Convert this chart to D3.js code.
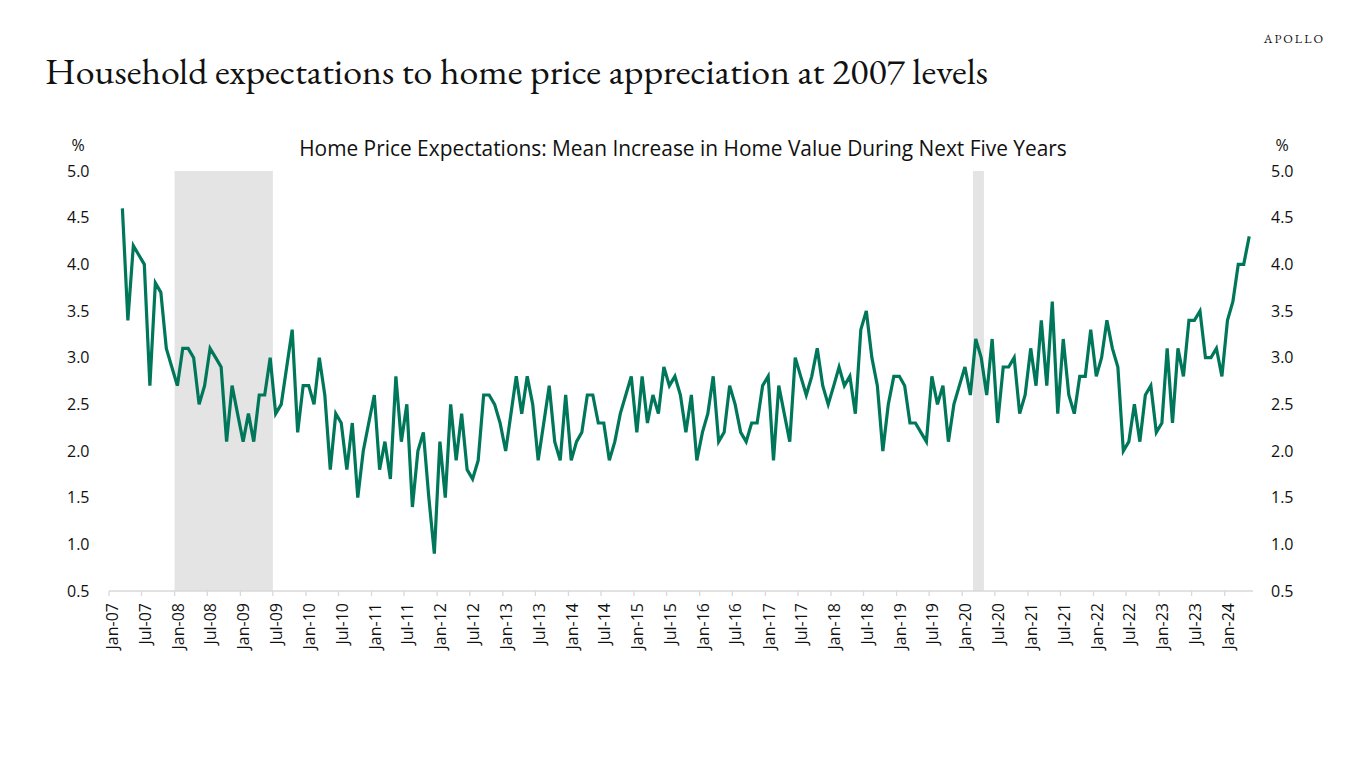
<!DOCTYPE html>
<html><head><meta charset="utf-8">
<script src="https://cdn.jsdelivr.net/npm/d3@7"></script>
<style>body{margin:0;background:#fff;} svg{display:block}</style>
</head><body><svg id="c" width="1366" height="768"></svg>
<script>
// ---- data (monthly, starting Mar-2007) ----
const firstMonth = "2007-03";
const v2007 = [4.6,3.4,4.2,4.1,4.0,2.7,3.8,3.7,3.1,2.9];
const v2008 = [2.7,3.1,3.1,3.0,2.5,2.7,3.1,3.0,2.9,2.1,2.7,2.4];
const v2009 = [2.1,2.4,2.1,2.6,2.6,3.0,2.4,2.5,2.9,3.3,2.2,2.7];
const v2010 = [2.7,2.5,3.0,2.6,1.8,2.4,2.3,1.8,2.3,1.5,2.0,2.3];
const v2011 = [2.6,1.8,2.1,1.7,2.8,2.1,2.5,1.4,2.0,2.2,1.5,0.9];
const v2012 = [2.1,1.5,2.5,1.9,2.4,1.8,1.7,1.9,2.6,2.6,2.5,2.3];
const v2013 = [2.0,2.4,2.8,2.4,2.8,2.5,1.9,2.3,2.7,2.1,1.9,2.6];
const v2014 = [1.9,2.1,2.2,2.6,2.6,2.3,2.3,1.9,2.1,2.4,2.6,2.8];
const v2015 = [2.2,2.8,2.3,2.6,2.4,2.9,2.7,2.8,2.6,2.2,2.6,1.9];
const v2016 = [2.2,2.4,2.8,2.1,2.2,2.7,2.5,2.2,2.1,2.3,2.3,2.7];
const v2017 = [2.8,1.9,2.7,2.4,2.1,3.0,2.8,2.6,2.8,3.1,2.7,2.5];
const v2018 = [2.7,2.9,2.7,2.8,2.4,3.3,3.5,3.0,2.7,2.0,2.5,2.8];
const v2019 = [2.8,2.7,2.3,2.3,2.2,2.1,2.8,2.5,2.7,2.1,2.5,2.7];
const v2020 = [2.9,2.6,3.2,3.0,2.6,3.2,2.3,2.9,2.9,3.0,2.4,2.6];
const v2021 = [3.1,2.7,3.4,2.7,3.6,2.4,3.2,2.6,2.4,2.8,2.8,3.3];
const v2022 = [2.8,3.0,3.4,3.1,2.9,2.0,2.1,2.5,2.1,2.6,2.7,2.2];
const v2023 = [2.3,3.1,2.3,3.1,2.8,3.4,3.4,3.5,3.0,3.0,3.1,2.8];
const v2024 = [3.4,3.6,4.0,4.0,4.3];
const axisRange = ["2007-01","2024-06"];           // category span of the x axis (monthly)
const recessions = [["2008-01","2009-07"],["2020-03","2020-05"]];
const yTicks = [0.5,1.0,1.5,2.0,2.5,3.0,3.5,4.0,4.5,5.0];

const title = "Household expectations to home price appreciation at 2007 levels";
const subtitle = "Home Price Expectations: Mean Increase in Home Value During Next Five Years";

// ---- build series ----
const parseM = d3.utcParse("%Y-%m");
const values = [].concat(v2007,v2008,v2009,v2010,v2011,v2012,v2013,v2014,v2015,v2016,v2017,v2018,v2019,v2020,v2021,v2022,v2023,v2024);
const start = parseM(firstMonth);
const series = values.map((v,i)=>({date: d3.utcMonth.offset(start,i), value: v}));

const svg = d3.select("#c");
const L = 109, R = 1252, T = 171, B = 591;
const x = d3.scaleUtc().domain(axisRange.map(parseM)).range([L,R]);
const y = d3.scaleLinear().domain([0.5,5.0]).range([B,T]);
const mid = d => new Date((+d + +d3.utcMonth.offset(d,1))/2);

const sans = "'Open Sans','Noto Sans',sans-serif";
const serif = "'EB Garamond',Garamond,'Liberation Serif','DejaVu Serif',serif";

// title
const t = svg.append("text").attr("x",45).attr("y",84).attr("font-family",serif)
  .attr("font-size",36).attr("fill","#111").text(title);
t.attr("textLength",943).attr("lengthAdjust","spacingAndGlyphs");

svg.append("text").attr("x",1325).attr("y",43).attr("text-anchor","end")
  .attr("font-family",serif).attr("font-size",12.5).attr("letter-spacing",2)
  .attr("fill","#111").text("APOLLO");

// subtitle
const st = svg.append("text").attr("x",683).attr("y",156).attr("text-anchor","middle")
  .attr("font-family",sans).attr("font-size",20).attr("fill","#111").text(subtitle);
{ const w = st.node().getComputedTextLength(); st.attr("font-size", 20*768/w); }

// recession shading
svg.append("g").selectAll("rect").data(recessions).join("rect")
  .attr("x",d=>x(parseM(d[0]))).attr("width",d=>x(parseM(d[1]))-x(parseM(d[0])))
  .attr("y",T).attr("height",B-T).attr("fill","#e4e4e4");

// y axes (labels only)
const yl = svg.append("g").attr("font-family",sans).attr("font-size",16).attr("fill","#111");
yl.selectAll("text.l").data(yTicks).join("text").attr("class","l")
  .attr("x",89.5).attr("y",d=>y(d)).attr("dy","0.35em").attr("text-anchor","end")
  .text(d=>d3.format(".1f")(d));
yl.selectAll("text.r").data(yTicks).join("text").attr("class","r")
  .attr("x",1271).attr("y",d=>y(d)).attr("dy","0.35em").attr("text-anchor","start")
  .text(d=>d3.format(".1f")(d));
yl.append("text").attr("x",78).attr("y",145).attr("dy","0.35em").attr("text-anchor","middle").text("%");
yl.append("text").attr("x",1282).attr("y",145).attr("dy","0.35em").attr("text-anchor","middle").text("%");

// x axis
const xTicks = d3.utcMonth.every(6).range(parseM(axisRange[0]), d3.utcMonth.offset(parseM(axisRange[1]),-1));
const xa = svg.append("g");
xa.append("line").attr("x1",L).attr("x2",R+1).attr("y1",B).attr("y2",B)
  .attr("stroke","#d9d9d9").attr("stroke-width",1.3);
xa.selectAll("line.t").data(xTicks).join("line").attr("class","t")
  .attr("x1",d=>x(d)).attr("x2",d=>x(d)).attr("y1",B).attr("y2",B+5)
  .attr("stroke","#d9d9d9").attr("stroke-width",1.3);
const fmt = d3.utcFormat("%b-%y");
xa.selectAll("text").data(xTicks).join("text")
  .attr("transform",d=>`translate(${x(d)+3.5},${B+12}) rotate(-90)`)
  .attr("text-anchor","end").attr("dy","0.35em")
  .attr("font-family",sans).attr("font-size",16).attr("fill","#111")
  .text(d=>fmt(d));

// line
svg.append("path").datum(series)
  .attr("d", d3.line().x(d=>x(mid(d.date))).y(d=>y(d.value)))
  .attr("fill","none").attr("stroke","#00775a").attr("stroke-width",3.2)
  .attr("stroke-linejoin","miter").attr("stroke-miterlimit",4);
</script></body></html>
